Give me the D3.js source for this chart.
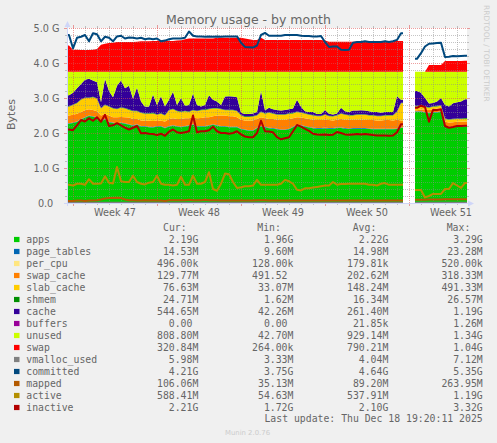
<!DOCTYPE html>
<html><head><meta charset="utf-8">
<script src="https://cdn.jsdelivr.net/npm/d3@7"></script>
<style>html,body{margin:0;padding:0;background:#f0f0f0;}svg{display:block}</style>
</head><body>
<svg id="chart" width="497" height="443"></svg>
<script>
const _ = null;
const startTime = "2025-11-15T12:00:00Z";
const endTime = "2025-12-18T20:00:00Z";
const stepHours = 8;
const yTicks = [0, 1, 2, 3, 4, 5];
const yTickLabels = ["0.0", "1.0 G", "2.0 G", "3.0 G", "4.0 G", "5.0 G"];
const weekLabelTimes = ["2025-11-19T12:00:00Z", "2025-11-26T12:00:00Z", "2025-12-03T12:00:00Z", "2025-12-10T12:00:00Z", "2025-12-17T12:00:00Z"];
const weekLabels = ["Week 47", "Week 48", "Week 49", "Week 50", "Week 51"];
const stackKeys = ["apps", "page_tables", "per_cpu", "swap_cache", "slab_cache", "shmem", "cache", "buffers", "unused", "swap"];
const lineKeys = ["vmalloc_used", "committed", "mapped", "active", "inactive"];
const legendNames = ["apps", "page_tables", "per_cpu", "swap_cache", "slab_cache", "shmem", "cache", "buffers", "unused", "swap", "vmalloc_used", "committed", "mapped", "active", "inactive"];
const legendColors = ["#00CC00", "#0066B3", "#FFE680", "#FF8000", "#FFCC00", "#008F00", "#330099", "#990099", "#CCFF00", "#FF0000", "#808080", "#00487D", "#B35A00", "#B38F00", "#B30000"];
const legendCur = ["2.19G", "14.53M", "496.00k", "129.77M", "76.63M", "24.71M", "544.65M", "0.00", "808.80M", "320.84M", "5.98M", "4.21G", "106.06M", "588.41M", "2.21G"];
const legendMin = ["1.96G", "9.60M", "128.00k", "491.52", "33.07M", "1.62M", "42.26M", "0.00", "42.70M", "264.00k", "3.33M", "3.75G", "35.13M", "54.63M", "1.72G"];
const legendAvg = ["2.22G", "14.98M", "179.81k", "202.62M", "148.24M", "16.34M", "261.40M", "21.85k", "929.14M", "790.21M", "4.04M", "4.64G", "89.20M", "537.91M", "2.10G"];
const legendMax = ["3.29G", "23.28M", "520.00k", "318.33M", "491.33M", "26.57M", "1.19G", "1.26M", "1.34G", "1.04G", "7.12M", "5.35G", "263.95M", "1.19G", "3.32G"];

// values in GiB, one per 8 hours
const apps = [2.265,2.285,2.315,2.385,2.435,2.485,2.465,2.435,2.335,2.385,
 2.305,2.285,2.255,2.285,2.265,2.235,2.205,2.235,2.185,2.185,
 2.165,2.155,2.185,2.185,2.135,2.185,2.205,2.185,2.165,2.185,
 2.205,2.235,2.185,2.185,2.185,2.205,2.235,2.205,2.185,2.185,
 2.165,2.165,2.165,2.105,2.085,2.065,2.065,2.135,2.185,2.165,
 2.135,2.125,2.105,2.085,2.085,2.105,2.165,2.225,2.205,2.185,
 2.155,2.135,2.125,2.125,2.135,2.125,2.125,2.145,2.145,2.125,
 2.115,2.125,2.125,2.125,2.125,2.115,2.105,2.105,2.105,2.105,
 2.105,2.105,2.115,2.145,_,_,_,2.605,2.605,2.585,
 2.565,2.585,2.585,2.605,2.185,2.165,2.165,2.175,2.175,2.19];
const page_tables = [.015,.015,.015,.015,.015,.015,.015,.015,.015,.015,
 .015,.015,.015,.015,.015,.015,.015,.015,.015,.015,
 .015,.015,.015,.015,.015,.015,.015,.015,.015,.015,
 .015,.015,.015,.015,.015,.015,.015,.015,.015,.015,
 .015,.015,.015,.015,.015,.015,.015,.015,.015,.015,
 .015,.015,.015,.015,.015,.015,.015,.015,.015,.015,
 .015,.015,.015,.015,.015,.015,.015,.015,.015,.015,
 .015,.015,.015,.015,.015,.015,.015,.015,.015,.015,
 .015,.015,.015,.015,_,_,_,.015,.015,.015,
 .015,.015,.015,.015,.015,.015,.015,.015,.015,.014];
const per_cpu = [.0002,.0002,.0002,.0002,.0002,.0002,.0002,.0002,.0002,.0002,
 .0002,.0002,.0002,.0002,.0002,.0002,.0002,.0002,.0002,.0002,
 .0002,.0002,.0002,.0002,.0002,.0002,.0002,.0002,.0002,.0002,
 .0002,.0002,.0002,.0002,.0002,.0002,.0002,.0002,.0002,.0002,
 .0002,.0002,.0002,.0002,.0002,.0002,.0002,.0002,.0002,.0002,
 .0002,.0002,.0002,.0002,.0002,.0002,.0002,.0002,.0002,.0002,
 .0002,.0002,.0002,.0002,.0002,.0002,.0002,.0002,.0002,.0002,
 .0002,.0002,.0002,.0002,.0002,.0002,.0002,.0002,.0002,.0002,
 .0002,.0002,.0002,.0002,_,_,_,.0002,.0002,.0002,
 .0002,.0002,.0002,.0002,.0002,.0002,.0002,.0002,.0002,.0005];
const swap_cache = [.22,.22,.22,.2,.2,.18,.18,.17,.15,.15,
 .18,.15,.18,.16,.17,.19,.18,.15,.16,.15,
 .17,.17,.15,.15,.18,.2,.2,.2,.22,.22,
 .2,.2,.22,.23,.25,.23,.23,.28,.3,.3,
 .3,.3,.27,.26,.26,.28,.28,.25,.25,.24,
 .25,.26,.26,.28,.28,.28,.24,.21,.22,.22,
 .23,.23,.23,.23,.23,.23,.22,.22,.24,.24,
 .25,.24,.24,.24,.24,.24,.25,.24,.24,.25,
 .25,.24,.25,.2,_,_,_,.03,.05,.07,
 .08,.08,.09,.08,.12,.12,.13,.13,.13,.127];
const slab_cache = [.25,.28,.3,.35,.35,.32,.36,.36,.2,.25,
 .25,.25,.23,.26,.25,.22,.22,.22,.21,.2,
 .2,.22,.17,.2,.17,.25,.26,.22,.2,.2,
 .18,.2,.2,.22,.21,.23,.22,.2,.18,.15,
 .17,.17,.17,.12,.1,.1,.11,.1,.15,.13,
 .18,.15,.14,.14,.14,.15,.14,.15,.14,.13,
 .12,.12,.11,.11,.14,.11,.11,.12,.15,.14,
 .12,.12,.14,.14,.14,.13,.13,.12,.12,.13,
 .13,.14,.22,.49,_,_,_,.11,.09,.07,
 .06,.07,.07,.08,.08,.08,.08,.08,.08,.075];
const shmem = [.016,.016,.016,.016,.016,.016,.016,.016,.016,.016,
 .016,.016,.016,.016,.016,.016,.016,.016,.016,.016,
 .016,.016,.016,.016,.016,.016,.016,.016,.016,.016,
 .016,.016,.016,.016,.016,.016,.016,.016,.016,.016,
 .016,.016,.016,.016,.016,.016,.016,.016,.016,.016,
 .016,.016,.016,.016,.016,.016,.016,.016,.016,.016,
 .016,.016,.016,.016,.016,.016,.016,.016,.016,.016,
 .016,.016,.016,.016,.016,.016,.016,.016,.016,.016,
 .016,.016,.016,.016,_,_,_,.016,.016,.016,
 .016,.016,.016,.016,.016,.016,.016,.016,.016,.024];
const cache = [.314,.334,.414,.434,.504,.534,.464,.454,.164,.734,
 .434,.304,.654,.764,.564,.674,.344,.664,.314,.184,
 .194,.524,.264,.484,.244,.284,.484,.164,.384,.144,
 .184,.464,.164,.094,.124,.384,.234,.184,.104,.374,
 .384,.374,.384,.064,.064,.064,.074,.084,.584,.084,
 .124,.114,.124,.104,.124,.114,.124,.334,.154,.054,
 .064,.084,.044,.044,.124,.054,.044,.044,.154,.084,
 .084,.124,.104,.114,.104,.104,.084,.104,.084,.084,
 .084,.084,.434,.084,_,_,_,.424,.374,.244,
 .104,.094,.124,.204,.384,.364,.444,.464,.484,.532];
const buffers = [0,0,0,0,0,0,0,0,0,0, 0,0,0,0,0,0,0,0,0,0, 0,0,0,0,0,0,0,0,0,0,
 0,0,0,0,0,0,0,0,0,0, 0,0,0,0,0,0,0,0,0,0, 0,0,0,0,0,0,0,0,0,0,
 0,0,0,0,0,0,0,0,0,0, 0,0,0,0,0,0,0,0,0,0, 0,0,0,0,_,_,_,0,0,0,
 0,0,0,0,0,0,0,0,0,0];
const unused = [.67,.6,.47,.35,.23,.2,.25,.3,.87,.2,
 .55,.73,.4,.25,.47,.4,.77,.45,.85,1.0,
 .99,.65,.95,.7,.99,.8,.57,.95,.75,.97,
 .95,.62,.95,.99,.95,.67,.8,.85,.95,.71,
 .7,.71,.73,1.17,1.21,1.21,1.19,1.15,.55,1.1,
 1.03,1.07,1.09,1.11,1.09,1.07,1.05,.8,1.0,1.13,
 1.15,1.15,1.21,1.21,1.09,1.2,1.22,1.19,1.03,1.13,
 1.15,1.11,1.11,1.1,1.11,1.13,1.15,1.15,1.17,1.15,
 1.15,1.15,.7,.8,_,_,_,.55,.6,.75,
 .91,.89,.85,.75,.95,.99,.9,.87,.85,.79];
const swap = [.75,.63,.63,.62,.62,.62,.63,.65,.77,.8,
 .82,.83,.85,.85,.85,.85,.85,.86,.87,.87,
 .87,.88,.88,.89,.89,.88,.88,.89,.9,.93,
 .95,.95,.95,.95,.95,.95,.95,.97,.97,.97,
 .97,.97,.97,.97,.95,.93,.91,.91,.97,.91,
 .91,.91,.91,.91,.91,.91,.91,.91,.91,.91,
 .91,.91,.91,.91,.89,.86,.86,.86,.86,.86,
 .86,.86,.86,.86,.86,.87,.87,.87,.88,.88,
 .88,.88,.88,.88,_,_,_,0,0,0,
 .19,.19,.19,.19,.31,.31,.31,.31,.31,.313];
const vmalloc_used = [.004,.004,.004,.004,.004,.004,.004,.004,.004,.004,
 .004,.004,.004,.004,.004,.004,.004,.004,.004,.004,
 .004,.004,.004,.004,.004,.004,.004,.004,.004,.004,
 .004,.004,.004,.004,.004,.004,.004,.004,.004,.004,
 .004,.004,.004,.004,.004,.004,.004,.004,.004,.004,
 .004,.004,.004,.004,.004,.004,.004,.004,.004,.004,
 .004,.004,.004,.004,.004,.004,.004,.004,.004,.004,
 .004,.004,.004,.004,.004,.004,.004,.004,.004,.004,
 .004,.004,.004,.004,_,_,_,.004,.004,.004,
 .004,.004,.004,.004,.004,.004,.004,.004,.004,.006];
const committed = [4.8,4.42,4.72,4.75,4.8,4.62,4.85,4.82,4.62,4.75,
 4.72,4.62,4.76,4.78,4.7,4.73,4.72,4.7,4.72,4.68,
 4.7,4.68,4.7,4.62,4.64,4.68,4.7,4.7,4.7,4.72,
 4.9,4.78,4.76,4.76,4.75,4.76,4.75,4.76,4.75,4.76,
 4.76,4.76,4.76,4.58,4.46,4.45,4.44,4.5,4.8,4.86,
 4.78,4.78,4.78,4.78,4.8,4.8,4.8,4.8,4.78,4.77,
 4.77,4.76,4.76,4.77,4.6,4.46,4.47,4.47,4.38,4.37,
 4.38,4.58,4.6,4.6,4.62,4.6,4.6,4.6,4.6,4.62,
 4.6,4.62,4.66,4.85,_,_,_,4.12,4.28,4.47,
 4.55,4.56,4.57,4.58,4.17,4.18,4.2,4.19,4.2,4.21];
const mapped = [.06,.06,.07,.07,.06,.07,.07,.08,.1,.13,
 .14,.14,.15,.14,.1,.08,.08,.07,.07,.08,
 .07,.08,.07,.07,.06,.08,.08,.08,.08,.08,
 .09,.08,.08,.08,.09,.08,.08,.08,.07,.07,
 .07,.07,.07,.07,.07,.07,.07,.08,.08,.08,
 .07,.07,.07,.07,.07,.07,.07,.07,.07,.07,
 .07,.07,.07,.07,.07,.07,.07,.07,.07,.07,
 .07,.07,.07,.07,.07,.07,.07,.07,.07,.07,
 .07,.07,.07,.07,_,_,_,.09,.09,.09,
 .1,.1,.1,.1,.11,.11,.11,.11,.11,.104];
const active = [.52,.5,.55,.55,.52,.68,.55,.55,.56,.76,
 .58,.56,1.03,.62,.6,.6,.78,.6,.55,.53,
 .58,.6,.78,.55,.52,.52,.5,.52,.75,.52,
 .52,.78,.55,.55,.6,.88,.4,.35,.55,.84,
 .82,.6,.43,.45,.48,.48,.5,.66,.52,.52,
 .52,.52,.52,.55,.66,.62,.55,.38,.36,.42,
 .42,.44,.46,.48,.5,.5,.6,.52,.54,.54,
 .55,.55,.55,.55,.55,.52,.52,.5,.55,.57,
 .52,.52,.52,.52,_,_,_,.37,.37,.16,
 .2,.26,.26,.26,.4,.4,.57,.5,.43,.575];
const inactive = [2.1,2.08,2.22,2.37,2.33,2.42,2.35,2.45,2.32,2.52,
 2.2,2.22,2.28,2.22,2.15,2.1,2.15,2.2,1.99,2.0,
 1.98,1.97,1.94,1.98,1.92,2.04,2.1,2.02,2.0,2.02,
 2.05,2.5,2.02,2.05,2.05,2.08,2.18,2.05,2.0,2.0,
 1.98,2.0,2.05,1.96,1.9,1.88,1.88,2.0,2.35,2.05,
 2.04,2.02,1.88,1.82,1.85,1.88,2.05,2.23,2.18,2.12,
 2.06,1.98,1.96,1.95,1.96,1.94,1.95,2.03,2.0,1.96,
 1.95,1.96,1.97,1.96,1.97,1.96,1.94,1.93,1.93,1.93,
 1.92,1.93,2.02,2.25,_,_,_,2.72,2.78,2.74,
 2.32,2.66,2.66,2.68,2.2,2.15,2.17,2.2,2.2,2.21];

const series = {apps, page_tables, per_cpu, swap_cache, slab_cache, shmem, cache, buffers, unused, swap,
  vmalloc_used, committed, mapped, active, inactive};
const colorOf = {};
legendNames.forEach((n, i) => colorOf[n] = legendColors[i]);

const svg = d3.select("#chart");
const X0 = 67, X1 = 467, Y0 = 203, Y1 = 28;
const SANS = "'DejaVu Sans', sans-serif", MONO = "'DejaVu Sans Mono', monospace";
const FONT = "#666666";

svg.append("rect").attr("width", 497).attr("height", 443).attr("fill", "#F0F0F0");
svg.append("rect").attr("x", X0).attr("y", Y1).attr("width", X1 - X0).attr("height", Y0 - Y1).attr("fill", "#FFFFFF");

const x = d3.scaleUtc().domain([new Date(startTime), new Date(endTime)]).range([X0, X1]);
const y = d3.scaleLinear().domain([0, 5]).range([Y0, Y1]);
const stepMs = stepHours * 3600e3;
const t0 = +new Date(startTime);
const times = apps.map((d, i) => new Date(t0 + i * stepMs));
const defined = i => apps[i] != null;

// build a path of points: run edges + sample midpoints
function buildPoints(getVals) {
  const pts = [];
  for (let i = 0; i < times.length; i++) {
    if (!defined(i)) { pts.push(null); continue; }
    const v = getVals(i);
    const first = i === 0 || !defined(i - 1);
    const last = i === times.length - 1 || !defined(i + 1);
    if (first) pts.push({t: times[i], v});
    pts.push({t: new Date(+times[i] + stepMs / 2), v});
    if (last) pts.push({t: new Date(+times[i] + stepMs), v});
  }
  return pts;
}

const rows = times.map((t, i) => {
  const r = {t};
  stackKeys.forEach(k => r[k] = series[k][i] == null ? 0 : series[k][i]);
  return r;
});
const layers = d3.stack().keys(stackKeys)(rows);

const area = d3.area().defined(d => d !== null)
  .x(d => x(d.t)).y0(d => y(d.v[0])).y1(d => y(d.v[1]));
const gArea = svg.append("g");
layers.forEach(layer => {
  const pts = buildPoints(i => [layer[i][0], layer[i][1]]);
  gArea.append("path").attr("d", area(pts)).attr("fill", colorOf[layer.key]);
});

// grid
const gGrid = svg.append("g");
const minorCol = "rgba(140,140,140,0.5)", majorCol = "rgba(222,80,80,0.55)";
const dom = x.domain();
const days = d3.utcDay.range(dom[0], dom[1]);
const weeks = d3.utcSunday.range(dom[0], dom[1]);
const isWeek = d => d.getUTCDay() === 0;
days.filter(d => !isWeek(d)).forEach(d => {
  const px = Math.round(x(d)) + 0.5;
  gGrid.append("line").attr("x1", px).attr("x2", px).attr("y1", Y1).attr("y2", Y0)
    .attr("stroke", minorCol).attr("stroke-dasharray", "1,1");
  gGrid.append("line").attr("x1", px).attr("x2", px).attr("y1", Y0).attr("y2", Y0 + 2).attr("stroke", minorCol);
  gGrid.append("line").attr("x1", px).attr("x2", px).attr("y1", Y1 - 2).attr("y2", Y1).attr("stroke", minorCol);
});
const minorY = d3.range(1, 25).map(k => k * 0.2).filter(v => Math.abs(v - Math.round(v)) > 0.01);
minorY.forEach(v => {
  const py = Math.round(y(v)) + 0.5;
  gGrid.append("line").attr("x1", X0).attr("x2", X1).attr("y1", py).attr("y2", py)
    .attr("stroke", minorCol).attr("stroke-dasharray", "1,1");
  gGrid.append("line").attr("x1", X0 - 2).attr("x2", X0).attr("y1", py).attr("y2", py).attr("stroke", minorCol);
  gGrid.append("line").attr("x1", X1).attr("x2", X1 + 2).attr("y1", py).attr("y2", py).attr("stroke", minorCol);
});
weeks.forEach(d => {
  const px = Math.round(x(d)) + 0.5;
  gGrid.append("line").attr("x1", px).attr("x2", px).attr("y1", Y1).attr("y2", Y0)
    .attr("stroke", majorCol).attr("stroke-dasharray", "1,1");
  gGrid.append("line").attr("x1", px).attr("x2", px).attr("y1", Y0).attr("y2", Y0 + 3).attr("stroke", majorCol);
  gGrid.append("line").attr("x1", px).attr("x2", px).attr("y1", Y1 - 3).attr("y2", Y1).attr("stroke", majorCol);
});
yTicks.filter(v => v > 0).forEach(v => {
  const py = Math.round(y(v)) + 0.5;
  gGrid.append("line").attr("x1", X0).attr("x2", X1).attr("y1", py).attr("y2", py)
    .attr("stroke", majorCol).attr("stroke-dasharray", "1,1");
  gGrid.append("line").attr("x1", X0 - 3).attr("x2", X0).attr("y1", py).attr("y2", py).attr("stroke", majorCol);
  gGrid.append("line").attr("x1", X1).attr("x2", X1 + 3).attr("y1", py).attr("y2", py).attr("stroke", majorCol);
});

// lines
const line = d3.line().defined(d => d !== null).x(d => x(d.t)).y(d => y(d.v));
lineKeys.forEach(k => {
  const pts = buildPoints(i => series[k][i]);
  svg.append("path").attr("d", line(pts)).attr("fill", "none")
    .attr("stroke", colorOf[k]).attr("stroke-width", 2).attr("stroke-linejoin", "round");
});

// axes
const AX = "#CFD6F8";
svg.append("line").attr("x1", X0 - 3).attr("x2", X1 + 2).attr("y1", Y0 + 0.5).attr("y2", Y0 + 0.5).attr("stroke", AX);
svg.append("line").attr("x1", X0 + 0.5).attr("x2", X0 + 0.5).attr("y1", Y0 + 3).attr("y2", Y1 - 2).attr("stroke", AX);
svg.append("path").attr("d", `M${X1 + 1},${Y0 - 2.5}L${X1 + 7},${Y0 + 0.5}L${X1 + 1},${Y0 + 3.5}Z`).attr("fill", AX);
svg.append("path").attr("d", `M${X0 - 2.5},${Y1 - 1}L${X0 + 0.5},${Y1 - 7}L${X0 + 3.5},${Y1 - 1}Z`).attr("fill", AX);

// y labels
yTicks.forEach((v, i) => {
  const lab = yTickLabels[i];
  const right = lab.indexOf("G") >= 0 ? 59.5 : 53.3;
  svg.append("text").attr("x", right).attr("y", y(v) + 3.6).attr("text-anchor", "end")
    .attr("font-family", SANS).attr("font-size", 9.7).attr("fill", FONT).text(lab);
});
// x labels
weekLabels.forEach((lab, i) => {
  svg.append("text").attr("x", x(new Date(weekLabelTimes[i]))).attr("y", 216).attr("text-anchor", "middle")
    .attr("font-family", SANS).attr("font-size", 9.7).attr("fill", FONT).text(lab);
});

// title etc
svg.append("text").attr("x", 248.5).attr("y", 23.7).attr("text-anchor", "middle")
  .attr("font-family", SANS).attr("font-size", 12.5).attr("fill", FONT).text("Memory usage - by month");
svg.append("text").attr("transform", "translate(14.5,114.5) rotate(-90)").attr("text-anchor", "middle")
  .attr("font-family", SANS).attr("font-size", 11.1).attr("fill", FONT).text("Bytes");
svg.append("text").attr("transform", "translate(484.3,5) rotate(90)").attr("text-anchor", "start")
  .attr("font-family", SANS).attr("font-size", 7.5).attr("fill", "#CCCCCC").text("RRDTOOL / TOBI OETIKER");

// legend
const LF = 9.8, CW = LF * 0.602;
const cols = [{h: "Cur:", hx: 163, r: 198.3, v: legendCur}, {h: "Min:", hx: 257.3, r: 293.4, v: legendMin},
  {h: "Avg:", hx: 352.7, r: 388.3, v: legendAvg}, {h: "Max:", hx: 446.7, r: 482.7, v: legendMax}];
cols.forEach(c => {
  svg.append("text").attr("x", c.hx).attr("y", 230.9).attr("font-family", MONO).attr("font-size", LF)
    .attr("fill", FONT).text(c.h);
});
legendNames.forEach((n, k) => {
  const by = 242.7 + 12 * k;
  svg.append("rect").attr("x", 14).attr("y", by - 5.8).attr("width", 5.5).attr("height", 5.2).attr("fill", legendColors[k]);
  svg.append("text").attr("x", 26.3).attr("y", by).attr("font-family", MONO).attr("font-size", LF)
    .attr("fill", FONT).text(n);
  cols.forEach(c => {
    const s = c.v[k];
    const hasUnit = /[kMG]$/.test(s);
    svg.append("text").attr("x", c.r - (hasUnit ? 0 : CW)).attr("y", by).attr("text-anchor", "end")
      .attr("font-family", MONO).attr("font-size", LF).attr("fill", FONT).text(s);
  });
});
svg.append("text").attr("x", 482.7).attr("y", 421.7).attr("text-anchor", "end")
  .attr("font-family", MONO).attr("font-size", LF).attr("fill", FONT).text("Last update: Thu Dec 18 19:20:11 2025");
svg.append("text").attr("x", 247.5).attr("y", 435).attr("text-anchor", "middle")
  .attr("font-family", SANS).attr("font-size", 6.9).attr("fill", "#CCCCCC").text("Munin 2.0.76");
</script>
</body></html>
